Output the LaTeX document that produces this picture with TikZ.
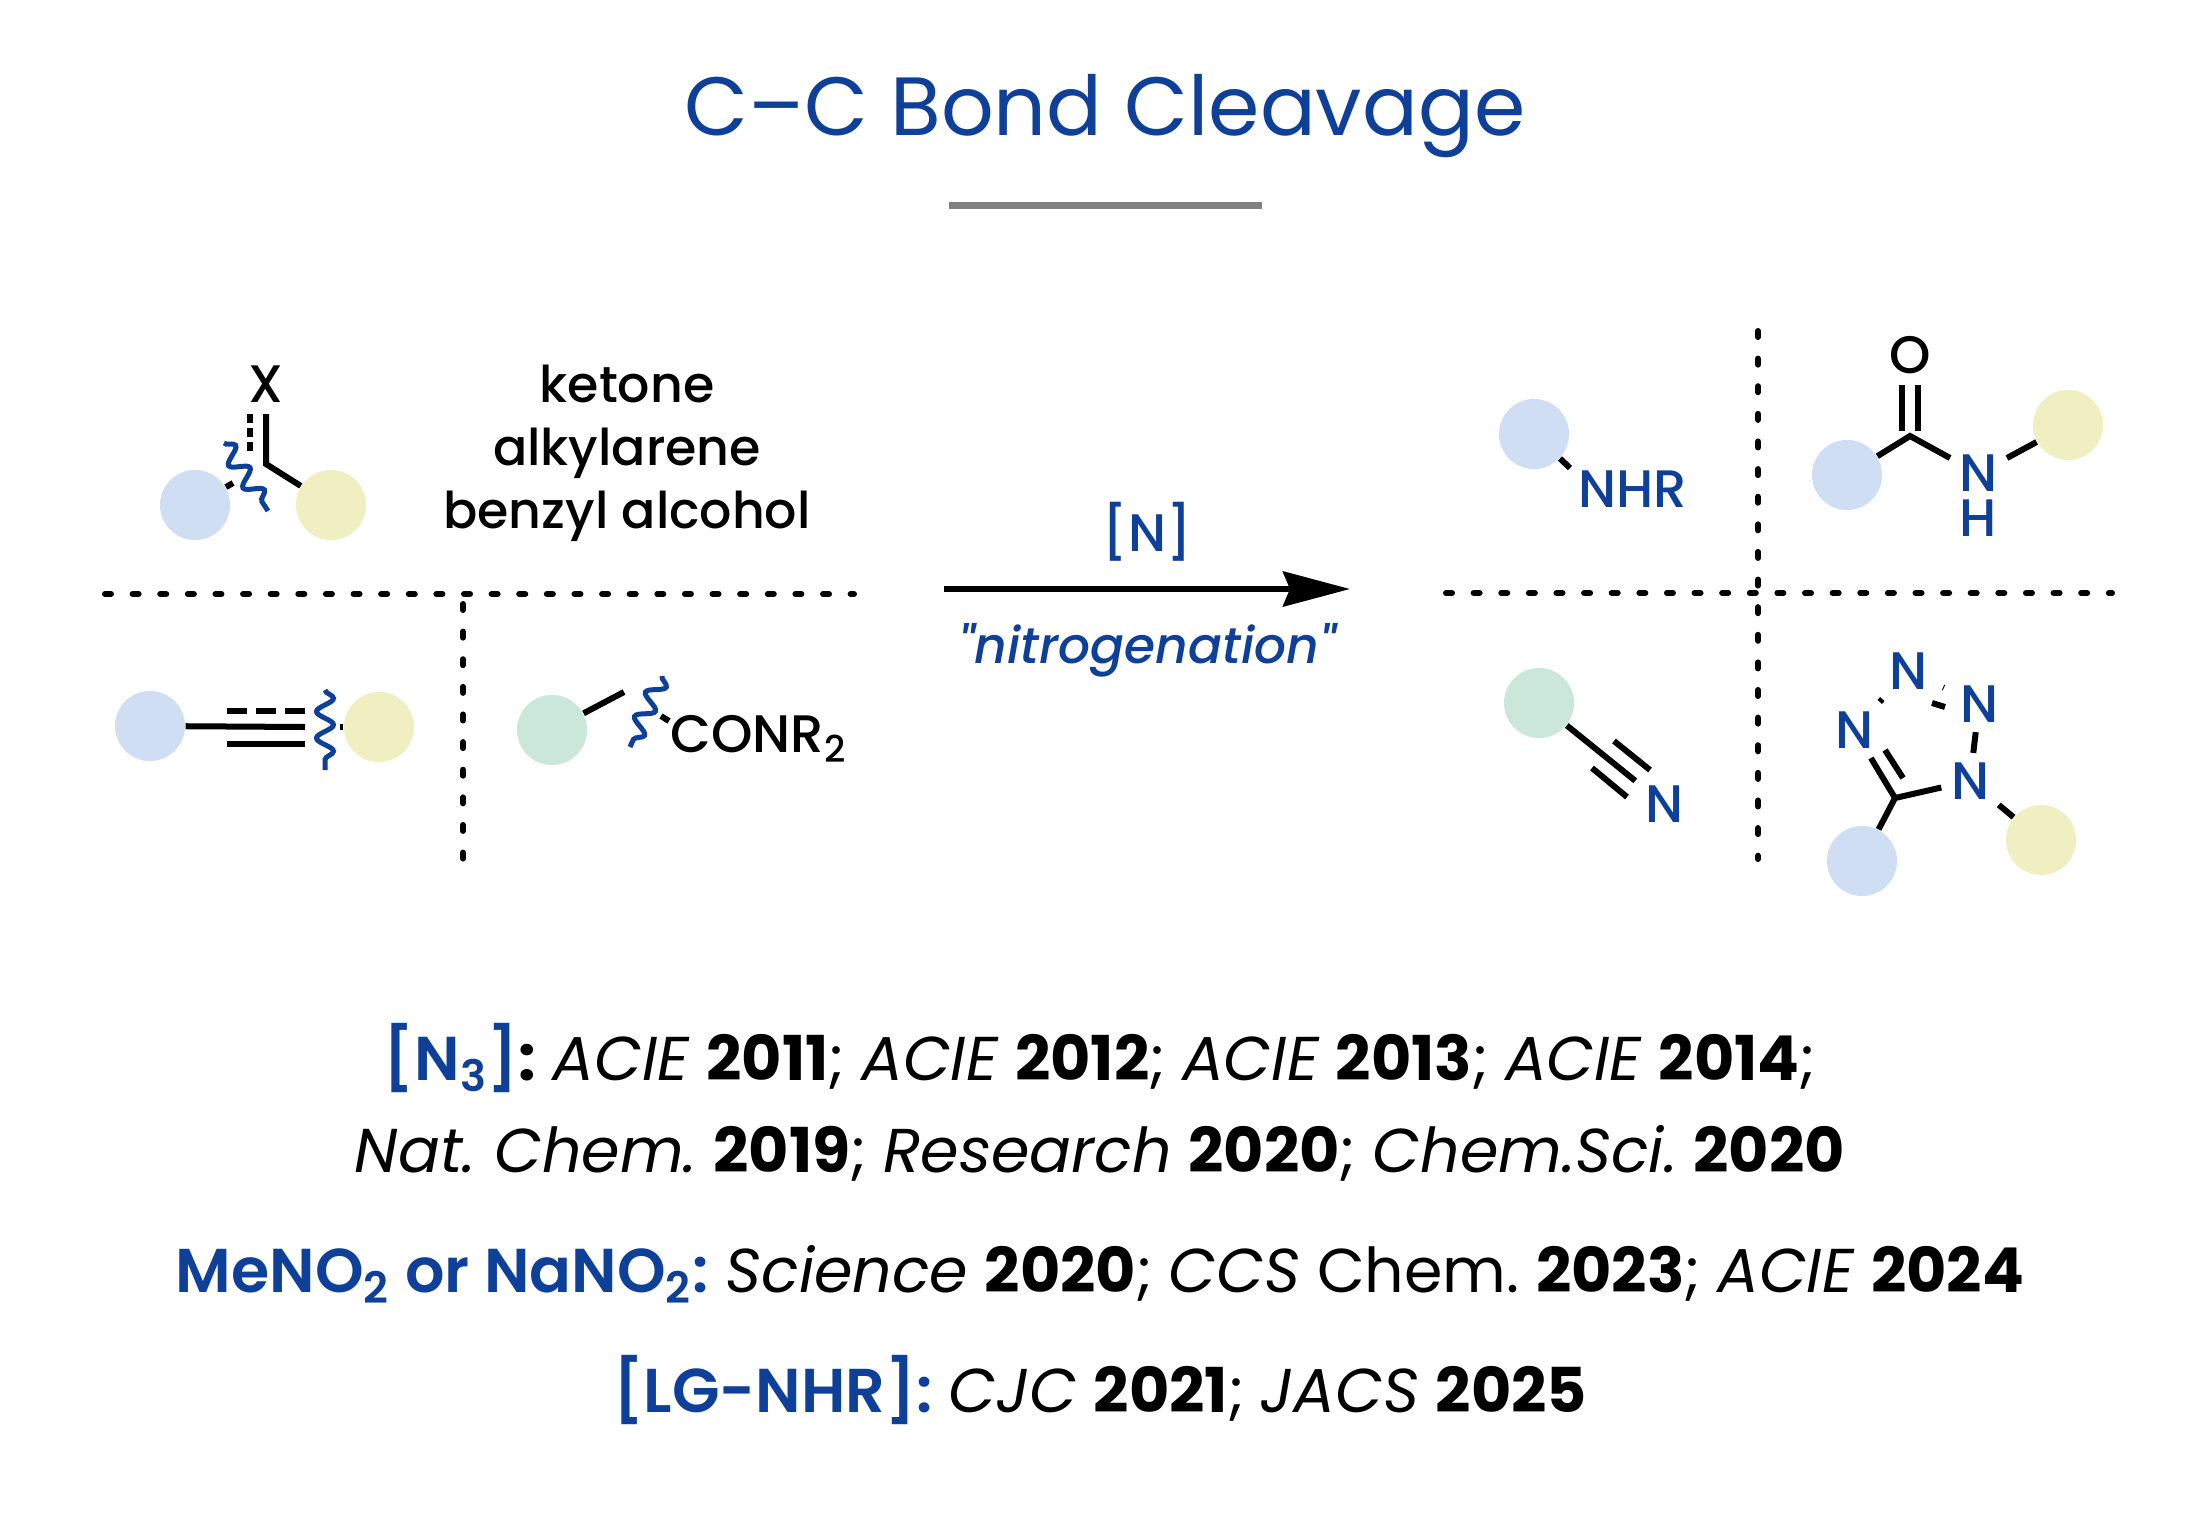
\documentclass[tikz,border=0pt]{standalone}
\usepackage{fontspec}
\setmainfont{Poppins}
\newfontfamily\medfont{Poppins}[UprightFont=* Medium,ItalicFont=* Medium Italic,BoldFont=* SemiBold]
\usetikzlibrary{arrows.meta,decorations.pathmorphing}

\definecolor{nblue}{RGB}{14,64,154}
\definecolor{cblue}{RGB}{208,222,244}
\definecolor{cyellow}{RGB}{240,239,194}
\definecolor{cgreen}{RGB}{203,231,218}
\definecolor{rulegray}{RGB}{128,128,128}
\frenchspacing

\begin{document}
\begin{tikzpicture}[x=0.01cm,y=-0.01cm,
    ball/.style={circle,fill=#1,minimum size=0.7cm,inner sep=0pt},
    bond/.style={line width=0.06cm},
    wavy/.style={nblue,line width=0.05cm,decorate,decoration={snake,segment length=0.265cm,amplitude=0.085cm}},
    divider/.style={line width=0.06cm,line cap=round,dash pattern=on 0.06cm off 0.216cm},
    atom/.style={font=\medfont\fontsize{15}{18}\selectfont,inner sep=0.09cm},
    label text/.style={font=\medfont\fontsize{14.4}{17.9}\selectfont,inner sep=0pt},
    ref line/.style={font=\fontsize{17.6}{22}\selectfont,inner sep=0pt,anchor=base}]
\path[use as bounding box,fill=white] (0,0) rectangle (2200,1524);

\node[anchor=base,inner sep=0pt,text=nblue,font=\fontsize{23.5}{28}\selectfont] (title) at (1105,135) {C–C Bond Cleavage};
\coordinate (u1) at (949,205);
\coordinate (u2) at (1262,205);
\draw[rulegray,line width=0.07cm] (u1) -- (u2);

\node[ball=cblue] (b1) at (195,505) {};
\node[ball=cyellow] (y1) at (331,505) {};
\node[atom] (x1) at (266,384) {X};
\coordinate (c1) at (266,464);
\coordinate (c1t) at (266,414);
\coordinate (d1) at (250,414);
\coordinate (d2) at (250,451);
\coordinate (cut1) at (233,483);
\coordinate (w1a) at (224,443);
\coordinate (w1b) at (268,511);
\draw[bond] (c1t) -- (c1) -- (y1);
\draw[bond,dash pattern=on 0.09cm off 0.05cm] (d1) -- (d2);
\draw[bond] (b1) -- (cut1);
\draw[wavy] (w1a) -- (w1b);
\node[label text,align=center,anchor=base] (subs) at (627,528) {ketone\\alkylarene\\benzyl alcohol};

\coordinate (h1) at (105,594);
\coordinate (h2) at (854,594);
\coordinate (v1) at (463,604);
\coordinate (v2) at (463,860);
\draw[divider] (h1) -- (h2);
\draw[divider] (v1) -- (v2);

\node[ball=cblue] (b2) at (150,726) {};
\node[ball=cyellow] (y2) at (379,727) {};
\coordinate (a1) at (305,727);
\coordinate (a2) at (227,744);
\coordinate (a3) at (305,744);
\coordinate (a4) at (227,711);
\coordinate (a5) at (305,711);
\coordinate (cut2) at (340,727);
\coordinate (w2a) at (325,690);
\coordinate (w2b) at (325,770);
\draw[bond] (b2) -- (a1);
\draw[bond] (a2) -- (a3);
\draw[bond,dash pattern=on 0.2cm off 0.09cm] (a4) -- (a5);
\draw[bond] (cut2) -- (y2);
\draw[wavy] (w2a) -- (w2b);

\node[ball=cgreen] (g1) at (552,730) {};
\coordinate (k1) at (624,692);
\coordinate (cut3) at (661,716);
\coordinate (cut4) at (669,721);
\coordinate (w3a) at (662,676);
\coordinate (w3b) at (630,747);
\node[atom,anchor=base west,inner sep=0pt] (conr) at (670,752) {CONR\textsubscript{2}};
\draw[bond] (g1) -- (k1);
\draw[bond] (cut3) -- (cut4);
\draw[wavy] (w3a) -- (w3b);

\coordinate (arrL) at (944,589);
\coordinate (arrR) at (1350,589);
\draw[bond,-{Stealth[length=0.67cm,width=0.35cm,inset=0.07cm]}] (arrL) -- (arrR);
\node[atom,anchor=base,inner sep=0pt,text=nblue] (reag) at (1147,551) {[N]};
\node[atom,anchor=base,inner sep=0pt,text=nblue,font=\medfont\fontsize{14.3}{18}\selectfont\itshape\addfontfeatures{Ligatures=TeXOff}] (nitro) at (1147,663) {"nitrogenation"};

\coordinate (h3) at (1446,593);
\coordinate (h4) at (2112,593);
\coordinate (v3) at (1758,331);
\coordinate (v4) at (1758,859);
\draw[divider] (h3) -- (h4);
\draw[divider] (v3) -- (v4);

\node[ball=cblue] (b3) at (1534,434) {};
\node[atom,anchor=base west,inner sep=0pt,text=nblue] (nhr) at (1578,507) {NHR};
\coordinate (nb) at (1570,468);
\draw[bond] (b3) -- (nb);

\node[ball=cblue] (b4) at (1847,475) {};
\node[ball=cyellow] (y3) at (2068,425) {};
\node[atom] (o1) at (1910,355) {O};
\node[atom,text=nblue,align=center,anchor=base,inner sep=0pt,font=\medfont\fontsize{15}{12.6}\selectfont] (nh) at (1978,536) {N\\H};
\coordinate (c2) at (1910,436);
\coordinate (nh1) at (1950,458);
\coordinate (nh2) at (2007,458);
\coordinate (e1) at (1902,385);
\coordinate (e2) at (1902,431);
\coordinate (e3) at (1918,385);
\coordinate (e4) at (1918,431);
\draw[bond] (b4) -- (c2) -- (nh1);
\draw[bond] (nh2) -- (y3);
\draw[bond] (e1) -- (e2);
\draw[bond] (e3) -- (e4);

\node[ball=cgreen] (g2) at (1539,703) {};
\node[atom,text=nblue] (n2) at (1664,804) {N};
\coordinate (t1) at (1614,741);
\coordinate (t2) at (1650,770);
\coordinate (t3) at (1592,768);
\coordinate (t4) at (1627,797);
\draw[bond] (g2) -- (n2);
\draw[bond] (t1) -- (t2);
\draw[bond] (t3) -- (t4);

\node[ball=cblue] (b5) at (1862,861) {};
\node[ball=cyellow] (y4) at (2041,840) {};
\coordinate (c5) at (1895,798);
\node[atom,text=nblue] (tn1) at (1970,781) {N};
\node[atom,text=nblue] (tn2) at (1979,704) {N};
\node[atom,text=nblue] (tn3) at (1908,671) {N};
\node[atom,text=nblue] (tn4) at (1854,730) {N};
\coordinate (r1) at (1903,778);
\coordinate (r2) at (1885,750);
\coordinate (r3) at (1932,703);
\coordinate (r4) at (1945,707);
\draw[bond] (tn4) -- (c5) -- (tn1);
\draw[bond] (r1) -- (r2);
\draw[bond] (tn1) -- (tn2);
\draw[bond,shorten <=0.07cm,shorten >=0.07cm] (tn3) -- (tn2);
\draw[bond] (r3) -- (r4);
\draw[bond] (tn3) -- (tn4);
\draw[bond] (c5) -- (b5);
\draw[bond] (tn1) -- (y4);

\node[ref line] (ref1) at (1100,1080) {{\medfont\bfseries\color{nblue}[N\textsubscript{3}]}\textbf{:} \textit{ACIE} \textbf{2011}; \textit{ACIE} \textbf{2012}; \textit{ACIE} \textbf{2013}; \textit{ACIE} \textbf{2014};};
\node[ref line] (ref2) at (1100,1172) {\textit{Nat. Chem.} \textbf{2019}; \textit{Research} \textbf{2020}; \textit{Chem.Sci.} \textbf{2020}};
\node[ref line] (ref3) at (1100,1292) {{\medfont\bfseries\color{nblue}MeNO\textsubscript{2} or NaNO\textsubscript{2}:} \textit{Science} \textbf{2020}; \textit{CCS} Chem. \textbf{2023}; \textit{ACIE} \textbf{2024}};
\node[ref line] (ref4) at (1100,1412) {{\medfont\bfseries\color{nblue}[LG-NHR]:} \textit{CJC} \textbf{2021}; \textit{JACS} \textbf{2025}};
\end{tikzpicture}
\end{document}
